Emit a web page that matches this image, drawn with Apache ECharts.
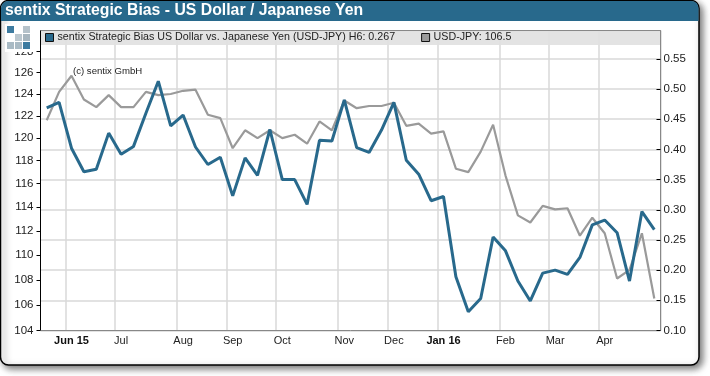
<!DOCTYPE html>
<html>
<head>
<meta charset="utf-8">
<title>sentix Strategic Bias</title>
<script src="https://cdn.jsdelivr.net/npm/echarts@6/dist/echarts.min.js"></script>
<style>
    html, body { margin: 0; padding: 0; background: #fff; }
    #chart { width: 710px; height: 376px; }
</style>
</head>
<body>
<div id="chart"></div>
<script>
// weekly dates, Fridays
const weeks = [
    '2015-05-22', '2015-05-29', '2015-06-05', '2015-06-12', '2015-06-19', '2015-06-26',
    '2015-07-03', '2015-07-10', '2015-07-17', '2015-07-24', '2015-07-31',
    '2015-08-07', '2015-08-14', '2015-08-21', '2015-08-28',
    '2015-09-04', '2015-09-11', '2015-09-18', '2015-09-25',
    '2015-10-02', '2015-10-09', '2015-10-16', '2015-10-23', '2015-10-30',
    '2015-11-06', '2015-11-13', '2015-11-20', '2015-11-27',
    '2015-12-04', '2015-12-11', '2015-12-18', '2015-12-25',
    '2016-01-01', '2016-01-08', '2016-01-15', '2016-01-22', '2016-01-29',
    '2016-02-05', '2016-02-12', '2016-02-19', '2016-02-26',
    '2016-03-04', '2016-03-11', '2016-03-18', '2016-03-25',
    '2016-04-01', '2016-04-08', '2016-04-15', '2016-04-22', '2016-04-29'
]
const monthWeeks = ['2015-06-05', '2015-07-03', '2015-08-07', '2015-09-04', '2015-10-02', '2015-11-06',
    '2015-12-04', '2016-01-01', '2016-02-05', '2016-03-04', '2016-04-01']
const monthLabels = ['Jun 15', 'Jul', 'Aug', 'Sep', 'Oct', 'Nov', 'Dec', 'Jan 16', 'Feb', 'Mar', 'Apr']

// sentix H6, right axis
const biasValues = [
    0.469, 0.478, 0.402, 0.363, 0.367, 0.427, 0.392, 0.405, 0.460, 0.513,
    0.439, 0.457, 0.404, 0.375, 0.387, 0.323, 0.386, 0.357, 0.433, 0.350,
    0.350, 0.309, 0.415, 0.414, 0.482, 0.403, 0.395, 0.432, 0.478, 0.382,
    0.359, 0.315, 0.322, 0.189, 0.131, 0.153, 0.255, 0.232, 0.182, 0.149,
    0.195, 0.200, 0.193, 0.221, 0.275, 0.283, 0.262, 0.182, 0.297, 0.267
]
// USD-JPY, left log axis
const usdJpyValues = [
    121.6, 124.2, 125.7, 123.5, 122.8, 123.9, 122.8, 122.8, 124.2, 123.9,
    124.0, 124.3, 124.4, 122.1, 121.8, 119.1, 120.7, 120.0, 120.7, 120.0,
    120.3, 119.5, 121.5, 120.7, 123.4, 122.7, 122.9, 122.9, 123.2, 121.1,
    121.3, 120.4, 120.6, 117.3, 117.0, 118.8, 121.2, 116.7, 113.3, 112.7,
    114.1, 113.8, 113.9, 111.6, 113.1, 111.8, 108.1, 108.8, 111.8, 106.5
]
const leftTicks = [104, 106, 108, 110, 112, 114, 116, 118, 120, 122, 124, 126, 128]

const titleText = 'sentix Strategic Bias - US Dollar / Japanese Yen'
const biasName = 'sentix Strategic Bias US Dollar vs. Japanese Yen (USD-JPY) H6: 0.267'
const usdJpyName = 'USD-JPY: 106.5'
const creditText = '(c) sentix GmbH'

const blue = '#28698c'
const gray = '#9a9a9a'
const gridColor = '#d9d9d9'
const font = '"Liberation Sans", Arial, sans-serif'

// 标记月份所在的那一周
const isMonthWeek = (index, value) => monthWeeks.indexOf(value) !== -1

// logo 小方块
function logoCell(x, y, fill) {
    return { type: 'rect', z: 21, shape: { x: x, y: y, width: 7, height: 7 }, style: { fill: fill } }
}

const cs = echarts.init(document.getElementById('chart'))
const option = {
    animation: false,
    textStyle: { fontFamily: font },
    grid: { left: 40.5, right: 49.5, top: 30.5, bottom: 45.5 },
    legend: {
        left: 45,
        top: 32,
        padding: 0,
        itemGap: 26,
        itemWidth: 8,
        itemHeight: 8,
        icon: 'rect',
        data: [
            { name: biasName, itemStyle: { color: blue, borderColor: '#111', borderWidth: 1 } },
            { name: usdJpyName, itemStyle: { color: gray, borderColor: '#111', borderWidth: 1 } }
        ],
        textStyle: { fontSize: 10.7, color: '#222', padding: [0, 0, 0, -1] },
        z: 6
    },
    xAxis: {
        type: 'category',
        data: weeks,
        boundaryGap: true,
        axisLine: { onZero: false, lineStyle: { color: '#888', width: 1 } },
        axisTick: { alignWithLabel: true, interval: isMonthWeek, length: 4, lineStyle: { color: '#000' } },
        splitLine: { show: true, interval: isMonthWeek, lineStyle: { color: gridColor, width: 1.5 } },
        axisLabel: {
            interval: isMonthWeek,
            margin: 5,
            fontSize: 11,
            color: '#222',
            formatter: function (value) {
                const label = monthLabels[monthWeeks.indexOf(value)]
                return label.indexOf(' ') !== -1 ? '{b|' + label + '}' : label
            },
            rich: { b: { fontWeight: 'bold', fontSize: 11, color: '#111' } }
        }
    },
    yAxis: [
        {
            type: 'log',
            logBase: 10,
            min: 104,
            max: 130,
            position: 'left',
            axisLine: { show: true, lineStyle: { color: '#000', width: 1 } },
            axisTick: { show: true, customValues: leftTicks, length: 4, lineStyle: { color: '#000' } },
            splitLine: { show: false },
            minorTick: { show: false },
            axisLabel: { customValues: leftTicks, margin: 7, fontSize: 11.5, color: '#222' }
        },
        {
            type: 'value',
            min: 0.1,
            max: 0.597,
            interval: 0.05,
            position: 'right',
            axisLine: { show: true, lineStyle: { color: '#888', width: 1 } },
            axisTick: { show: true, inside: true, length: 4, lineStyle: { color: '#000' } },
            splitLine: { show: true, lineStyle: { color: gridColor, width: 1.5 } },
            axisLabel: {
                margin: 3,
                fontSize: 11.5,
                color: '#222',
                showMaxLabel: false,
                formatter: (v) => v.toFixed(2)
            }
        }
    ],
    series: [
        {
            type: 'line',
            name: usdJpyName,
            data: usdJpyValues,
            yAxisIndex: 0,
            symbol: 'none',
            lineStyle: { color: gray, width: 2.2 },
            itemStyle: { color: gray },
            z: 3
        },
        {
            type: 'line',
            name: biasName,
            data: biasValues,
            yAxisIndex: 1,
            symbol: 'none',
            lineStyle: { color: blue, width: 3 },
            itemStyle: { color: blue },
            z: 4
        }
    ],
    graphic: [
        // 外框与阴影
        {
            type: 'rect', z: -10, silent: true,
            shape: { x: 0.5, y: 0.5, width: 698.5, height: 364.5, r: 8 },
            style: {
                fill: '#fff', stroke: '#000', lineWidth: 1.5,
                shadowBlur: 7, shadowOffsetX: 3, shadowOffsetY: 3, shadowColor: 'rgba(0,0,0,0.55)'
            }
        },
        // 标题栏
        {
            type: 'rect', z: 1, silent: true,
            shape: { x: 1, y: 1, width: 697.5, height: 20, r: [7, 7, 0, 0] },
            style: { fill: '#28698c' }
        },
        {
            type: 'text', z: 2, silent: true, x: 5, y: 3,
            style: { text: titleText, fill: '#fff', font: 'bold 15.8px ' + font }
        },
        // 图例底色
        {
            type: 'rect', z: 1, silent: true,
            shape: { x: 41, y: 30.5, width: 619, height: 14.5 },
            style: { fill: 'rgba(225,225,225,0.92)' }
        },
        {
            type: 'line', z: 1, silent: true,
            shape: { x1: 40.5, y1: 30.5, x2: 660.5, y2: 30.5 },
            style: { stroke: '#888', lineWidth: 1 }
        },
        {
            type: 'text', z: 5, silent: true, x: 73, y: 66,
            style: { text: creditText, fill: '#222', font: '9.6px ' + font }
        },
        // logo，白底遮住 128 的上半部分
        {
            type: 'rect', z: 20, silent: true,
            shape: { x: 5, y: 24, width: 30, height: 28 },
            style: { fill: '#fff' }
        },
        logoCell(7, 26, '#3d7ba0'),
        logoCell(23, 26, '#b5c2ca'),
        logoCell(15, 34, '#bcc8cf'),
        logoCell(23, 34, '#a7b6bf'),
        logoCell(7, 42, '#a9bac4'),
        logoCell(15, 42, '#a9bac4'),
        logoCell(23, 42, '#3d7ba0')
    ]
}
cs.setOption(option)
</script>
</body>
</html>
